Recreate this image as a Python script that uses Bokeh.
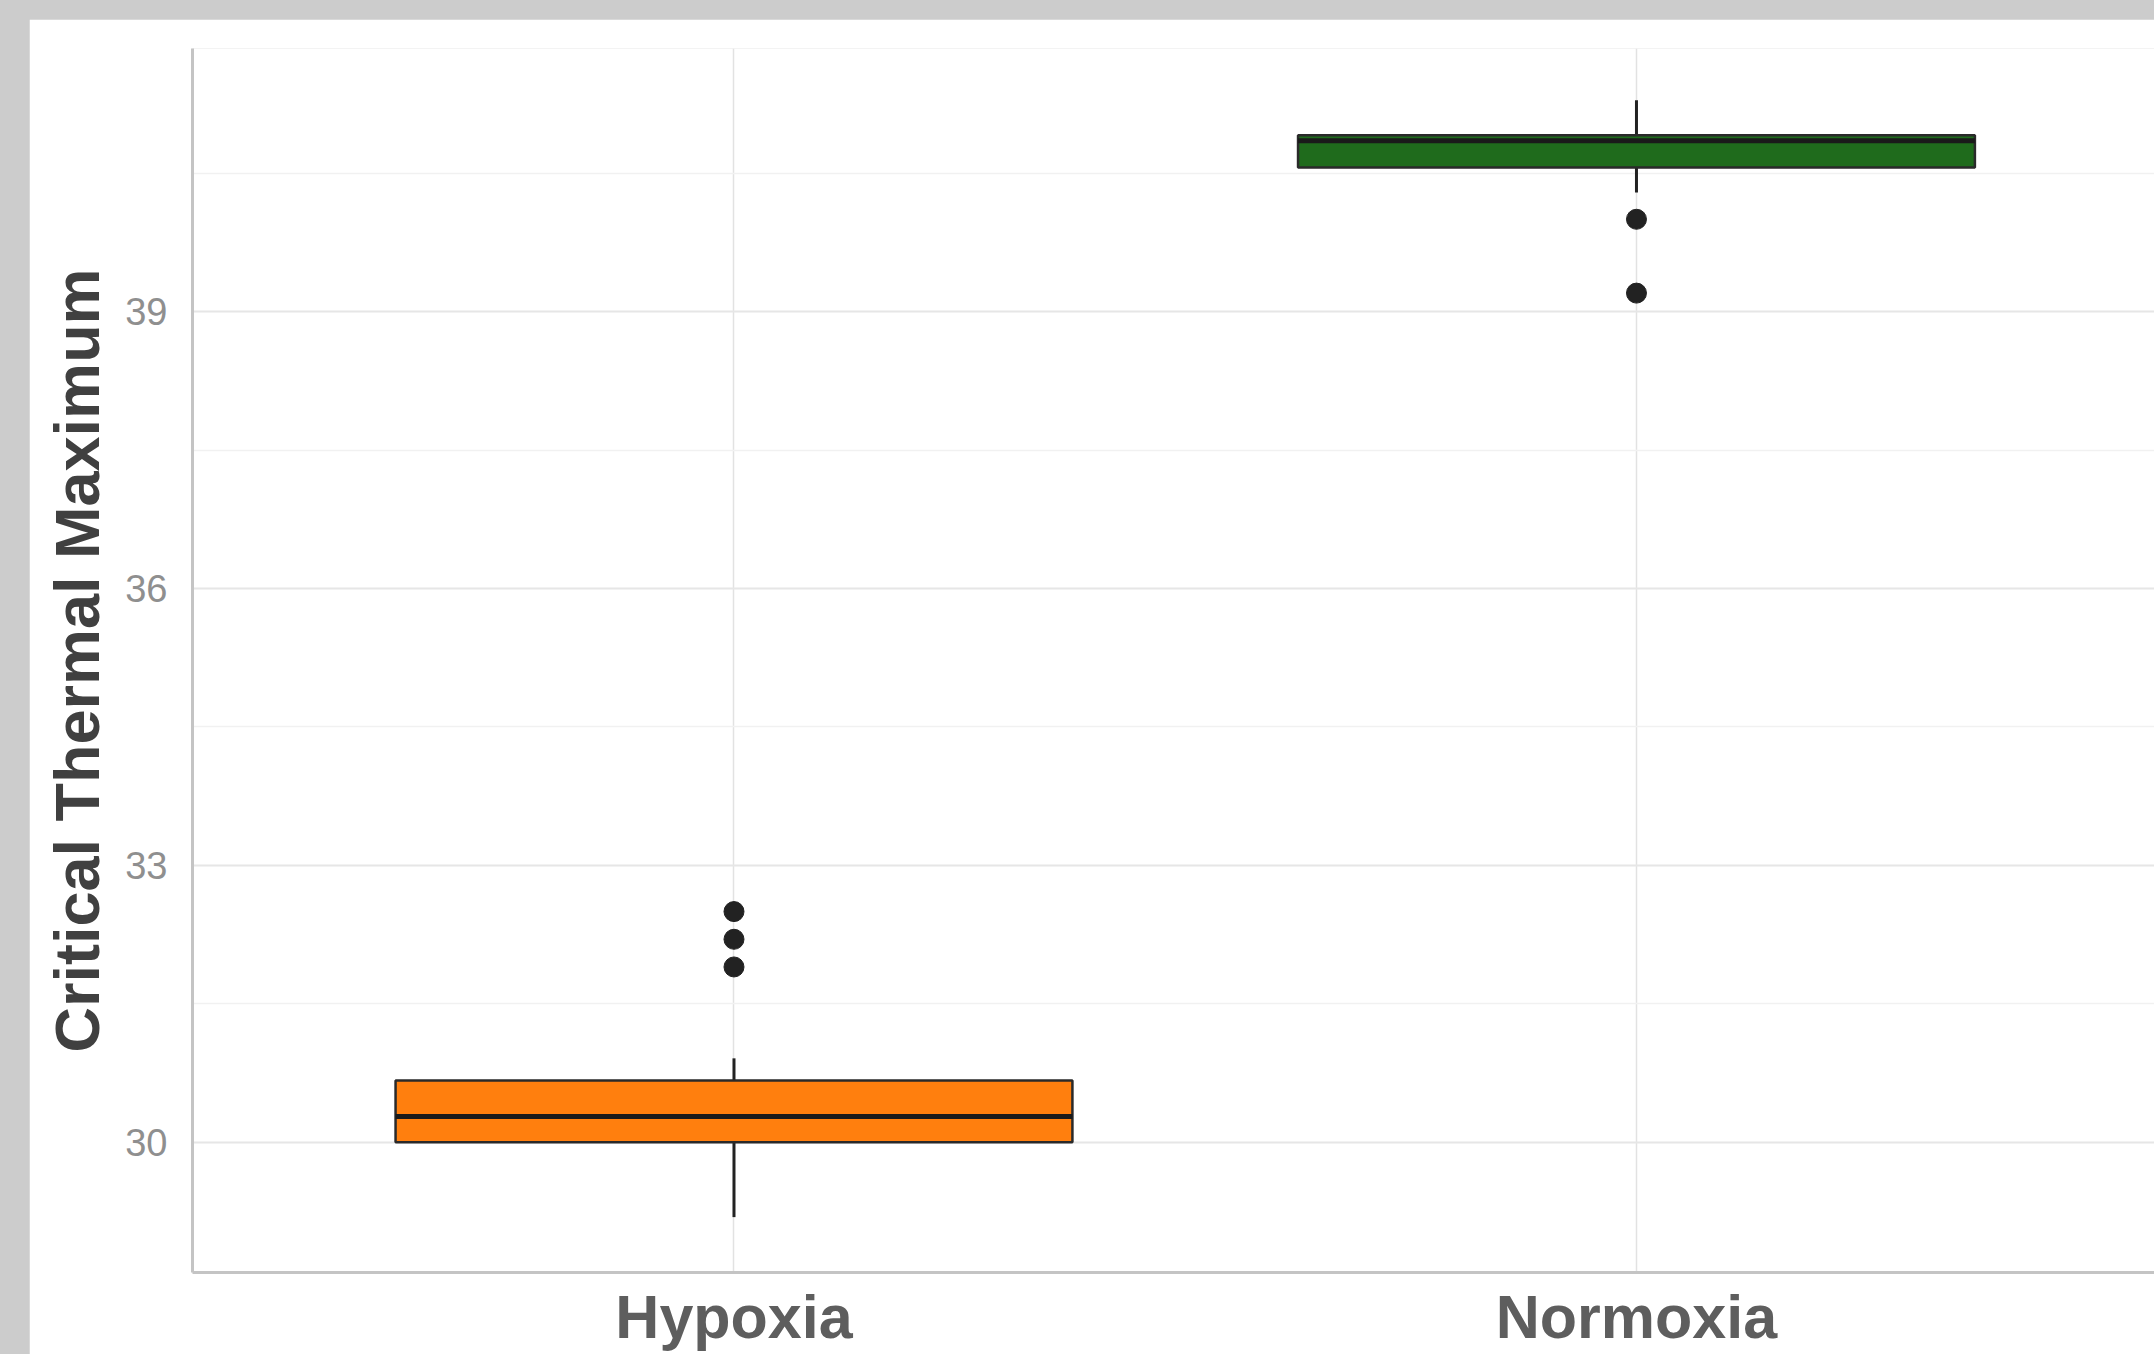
from bokeh.plotting import figure
from bokeh.models import FixedTicker, Range1d
from bokeh.layouts import column
from bokeh.embed import file_html
from bokeh.resources import INLINE

# ---- data ----
categories = ["Hypoxia", "Normoxia"]
q1 = [30.0, 40.56]
median = [30.28, 40.85]
q3 = [30.67, 40.91]
whisker_low = [29.19, 40.29]
whisker_high = [30.91, 41.29]
outlier_group = ["Hypoxia", "Hypoxia", "Hypoxia", "Normoxia", "Normoxia"]
outlier_values = [32.5, 32.2, 31.9, 40.0, 39.2]
y_ticks = [30, 33, 36, 39]
y_minor_ticks = [28.5, 31.5, 34.5, 37.5, 40.5]
box_colors = ["#ff7f0e", "#1f6b1c"]

# ---- derived positions via category index ----
xpos = [i + 1 for i in range(len(categories))]
box_w = 0.75
xl = [x - box_w / 2 for x in xpos]
xr = [x + box_w / 2 for x in xpos]
out_x = [categories.index(g) + 1 for g in outlier_group]

p = figure(width=2125, height=1335, output_backend="svg", toolbar_location=None,
           x_range=Range1d(0.4, 2.574), y_range=Range1d(28.59, 41.85),
           min_border_left=163, min_border_top=29, min_border_right=0,
           min_border_bottom=82)
p.margin = (19, 0, 0, 29)
p.outline_line_color = None
p.background_fill_color = "white"
p.border_fill_color = "white"

# grids
p.xgrid.ticker = FixedTicker(ticks=xpos)
p.xgrid.grid_line_color = "#e2e2e2"
p.xgrid.grid_line_width = 1.5
p.yaxis.ticker = FixedTicker(ticks=y_ticks, minor_ticks=y_minor_ticks)
p.ygrid.grid_line_color = "#e6e6e6"
p.ygrid.grid_line_width = 2
p.ygrid.minor_grid_line_color = "#f1f1f1"
p.ygrid.minor_grid_line_width = 1.5

# whiskers
p.segment(x0=xpos, y0=q3, x1=xpos, y1=whisker_high, line_color="#222222", line_width=3)
p.segment(x0=xpos, y0=q1, x1=xpos, y1=whisker_low, line_color="#222222", line_width=3)
# boxes
p.quad(left=xl, right=xr, bottom=q1, top=q3, fill_color=box_colors,
       line_color="#2a2a2a", line_width=2.5)
# medians
p.segment(x0=xl, y0=median, x1=xr, y1=median, line_color="#1a1a1a", line_width=5)
# outliers
p.scatter(x=out_x, y=outlier_values, size=20, fill_color="#222222", line_color="#222222")

# axes
p.xaxis.ticker = FixedTicker(ticks=xpos)
p.xaxis.major_label_overrides = {x: c for x, c in zip(xpos, categories)}
p.xaxis.major_label_text_font = "Liberation Sans"
p.xaxis.major_label_text_font_style = "bold"
p.xaxis.major_label_text_font_size = "61px"
p.xaxis.major_label_text_color = "#5e5e5e"
p.xaxis.major_label_standoff = 4
p.xaxis.major_tick_line_color = None
p.xaxis.minor_tick_line_color = None
p.xaxis.axis_line_color = "#c4c4c4"
p.xaxis.axis_line_width = 3

p.yaxis.axis_label = "Critical Thermal Maximum"
p.yaxis.axis_label_text_font = "Liberation Sans"
p.yaxis.axis_label_text_font_style = "bold"
p.yaxis.axis_label_text_font_size = "63px"
p.yaxis.axis_label_text_color = "#404040"
p.yaxis.axis_label_standoff = 10
p.yaxis.major_label_text_font = "Liberation Sans"
p.yaxis.major_label_text_font_size = "38px"
p.yaxis.major_label_text_color = "#8f8f8f"
p.yaxis.major_label_standoff = 19
p.yaxis.major_tick_line_color = None
p.yaxis.minor_tick_line_color = None
p.yaxis.axis_line_color = "#c4c4c4"
p.yaxis.axis_line_width = 3

layout = column(p, styles={"background-color": "#cccccc"})
open("out.html", "w").write(file_html(layout, INLINE))
